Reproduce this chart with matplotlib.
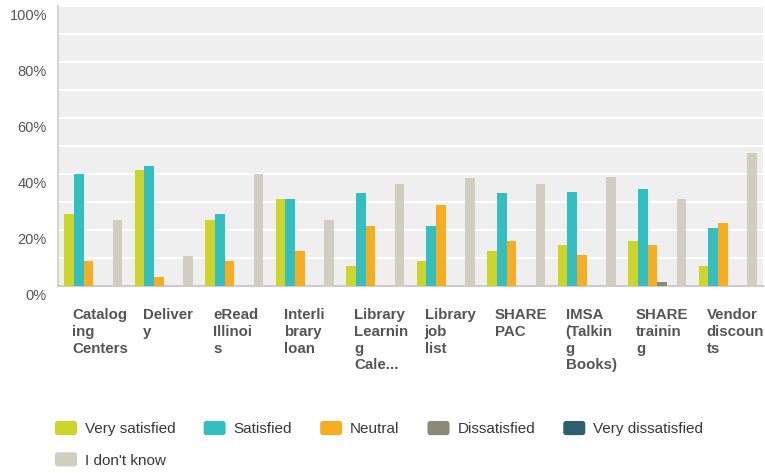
import numpy as np
import matplotlib
matplotlib.use("Agg")
import matplotlib.pyplot as plt
from matplotlib.transforms import ScaledTranslation
from matplotlib.patches import FancyBboxPatch
from matplotlib.container import BarContainer
from matplotlib.legend_handler import HandlerPatch, update_from_first_child

# services rated (labels wrapped the way the survey tool wrapped them)
categories = ["Catalog\ning\nCenters", "Deliver\ny", "eRead\nIllinoi\ns", "Interli\nbrary\nloan",
              "Library\nLearnin\ng\nCale...", "Library\njob\nlist", "SHARE\nPAC",
              "IMSA\n(Talkin\ng\nBooks)", "SHARE\ntrainin\ng", "Vendor\ndiscoun\nts"]

# percentages
very_satisfied = [25.7, 41.5, 23.6, 31.0, 7.2, 9.1, 12.6, 14.6, 16.1, 7.2]
satisfied = [40.1, 43.1, 25.7, 31.0, 33.1, 21.6, 33.1, 33.5, 34.6, 20.6]
neutral = [9.1, 3.1, 9.1, 12.6, 21.6, 29.0, 16.1, 11.1, 14.6, 22.7]
dissatisfied = [0, 0, 0, 0, 0, 0, 0, 0, 1.6, 0]
very_dissatisfied = [0, 0, 0, 0, 0, 0, 0, 0, 0, 0]
dont_know = [23.6, 10.6, 40.1, 23.6, 36.5, 38.5, 36.5, 39.0, 31.0, 47.5]

series_names = ["Very satisfied", "Satisfied", "Neutral", "Dissatisfied", "Very dissatisfied", "I don't know"]
series = [very_satisfied, satisfied, neutral, dissatisfied, very_dissatisfied, dont_know]
colors = ["#cdd42a", "#33bec1", "#f6ae20", "#8a8a78", "#2d5f6d", "#d0cebf"]

fig = plt.figure(figsize=(7.65, 4.73), dpi=100)
ax = fig.add_axes([58 / 765, 187 / 473, 705 / 765, 279.5 / 473])
ax.set_facecolor("#efefef")

x = np.arange(len(categories))
w = 0.1376
bars = []
for k, (vals, c) in enumerate(zip(series, colors)):
    b = ax.bar(x + (k - 2.5) * w, vals, w, color=c, label=series_names[k], zorder=3)
    bars.append(b)

ax.set_xlim(-0.5, len(categories) - 0.5)
ax.set_ylim(0, 100)
ax.set_yticks(range(0, 101, 20))
ax.set_yticks(range(10, 100, 20), minor=True)
ax.yaxis.grid(True, which="both", color="white", linewidth=1.5)
ax.set_axisbelow(True)
ax.set_yticklabels([f"{v}%" for v in range(0, 101, 20)], fontfamily="Liberation Sans",
                   fontsize=10.5, color="#555555", va="top")
ax.tick_params(axis="y", which="both", length=0, pad=8)
shift = ScaledTranslation(0, -3 / 100, fig.dpi_scale_trans)
for lab in ax.get_yticklabels():
    lab.set_transform(lab.get_transform() + shift)

ax.set_xticks(x - 0.3)
ax.set_xticklabels(categories, ha="left", fontfamily="Liberation Sans", fontweight="bold",
                   fontsize=10.8, color="#555555", linespacing=1.25)
ax.tick_params(axis="x", length=0, pad=16)

for s in ["top", "right"]:
    ax.spines[s].set_visible(False)
ax.spines["left"].set_color("#d4d4d4")
ax.spines["left"].set_linewidth(1.5)
ax.spines["bottom"].set_color("#cccccc")
ax.spines["bottom"].set_linewidth(1.5)


def rounded(legend, orig_handle, xdescent, ydescent, width, height, fontsize):
    return FancyBboxPatch((-xdescent, -ydescent), width, height,
                          boxstyle="round,pad=0,rounding_size=2")


# reorder so entries read row by row
order = [0, 5, 1, 2, 3, 4]
fs = 11
px = 0.72 / fs  # one pixel in font-size units
leg = fig.legend([bars[i] for i in order], [series_names[i] for i in order],
                 loc="upper left", bbox_to_anchor=(55 / 765, 1 - 421 / 473), ncol=5,
                 frameon=False, borderpad=0, borderaxespad=0,
                 handlelength=22 * px, handleheight=16 * px, handletextpad=8 * px,
                 columnspacing=28 * px, labelspacing=16 * px,
                 prop={"family": "Liberation Sans", "size": fs}, labelcolor="#383838",
                 handler_map={BarContainer: HandlerPatch(patch_func=rounded,
                                                         update_func=update_from_first_child)})

fig.savefig("out.png", dpi=100)
